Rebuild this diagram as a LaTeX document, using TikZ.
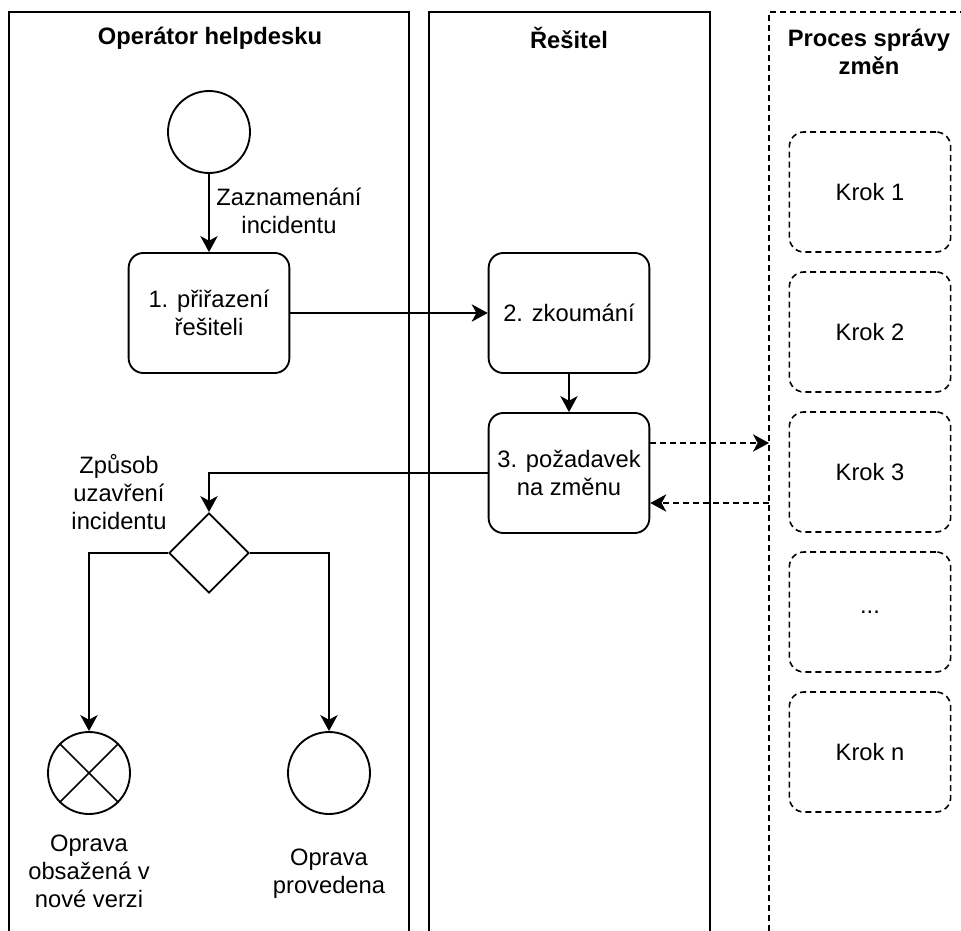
\documentclass[tikz,border=0pt]{standalone}
\usepackage{fontspec}
\setmainfont{Liberation Sans}
\usetikzlibrary{arrows.meta,shapes.geometric}
\begin{document}
\begin{tikzpicture}[x=0.75pt,y=-0.75pt,
  txt/.style={font=\fontsize{17.8}{21}\selectfont, align=center, inner sep=0pt},
  lanetitle/.style={txt, font=\fontsize{17.8}{21}\selectfont\bfseries},
  lane/.style={line width=1.4pt},
  dlane/.style={line width=1.2pt, dash pattern=on 4.5pt off 3pt},
  task/.style={txt, draw, line width=1.4pt, rounded corners=11pt,
    minimum width=120.5pt, minimum height=90pt},
  kroktask/.style={txt, draw, line width=1.2pt, dash pattern=on 4.5pt off 3pt,
    rounded corners=11pt, minimum width=121pt, minimum height=90pt},
  event/.style={draw, circle, line width=1.4pt, minimum size=61.5pt, inner sep=0pt},
  gateway/.style={draw, diamond, aspect=1, line width=1.4pt, minimum size=60pt, inner sep=0pt},
  tip/.tip={Stealth[length=12pt, width=13pt, inset=3.5pt]},
  arr/.style={line width=1.4pt, -tip},
  dasharr/.style={line width=1.2pt, dash pattern=on 4.5pt off 3pt, -tip}]

\useasboundingbox (0,0) rectangle (961,931);

% swimlanes
\draw[lane] (9,931) -- (9,12) -- (409,12) -- (409,931);
\draw[lane] (429,931) -- (429,12) -- (710,12) -- (710,931);
\draw[dlane] (769,931) -- (769,12) -- (961,12);

\node[lanetitle] (t1) at (210,38) {Operátor helpdesku};
\node[lanetitle] (t2) at (569,38) {Řešitel};
\node[lanetitle] (t3) at (869,52) {Proces správy\\změn};

% helpdesk operator
\node[event] (start) at (209,132) {};
\node[task] (b1) at (209,313) {1. přiřazení\\řešiteli};
\node[gateway] (dia) at (209,553) {};
\node[event] (e1) at (89,773) {};
\node[event] (e2) at (329,773) {};
\draw[line width=1.2pt] (e1.north west) -- (e1.south east);
\draw[line width=1.2pt] (e1.north east) -- (e1.south west);

\node[txt] (lzaz) at (289,211) {Zaznamenání\\incidentu};
\node[txt] (ldia) at (119,492) {Způsob\\uzavření\\incidentu};
\node[txt] (le1) at (89,871) {Oprava\\obsažená v\\nové verzi};
\node[txt] (le2) at (329,874) {Oprava\\provedena};

% solver
\node[task] (b2) at (569,313) {2. zkoumání};
\node[task] (b3) at (569,473) {3. požadavek\\na změnu};

% change management
\node[kroktask] (k1) at (870,192) {Krok 1};
\node[kroktask] (k2) at (870,332) {Krok 2};
\node[kroktask] (k3) at (870,472) {Krok 3};
\node[kroktask] (k4) at (870,612) {...};
\node[kroktask] (k5) at (870,752) {Krok n};

\coordinate (r1) at (769,443);
\coordinate (r2) at (769,503);

% flows
\draw[arr] (start) -- (b1);
\draw[arr] (b1) -- (b2);
\draw[arr] (b2) -- (b3);
\draw[arr] (b3.west) -| (dia.north);
\draw[arr] (dia.west) -| (e1.north);
\draw[arr] (dia.east) -| (e2.north);
\draw[dasharr] (b3.east |- r1) -- (r1);
\draw[dasharr] (r2) -- (b3.east |- r2);

\end{tikzpicture}
\end{document}
